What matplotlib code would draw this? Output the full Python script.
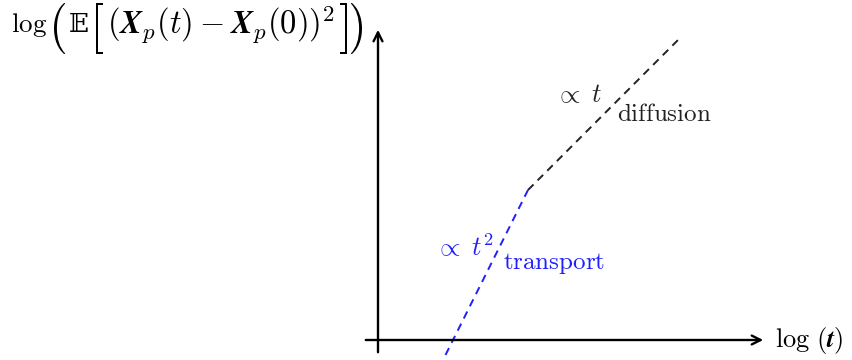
import matplotlib
matplotlib.use("Agg")
import matplotlib.pyplot as plt
from matplotlib.textpath import TextPath
from matplotlib.patches import PathPatch
from matplotlib.transforms import Affine2D
from matplotlib.font_manager import FontProperties

plt.rcParams['mathtext.fontset'] = 'cm'
plt.rcParams['font.family'] = 'serif'
plt.rcParams['font.serif'] = ['cmr10', 'DejaVu Serif']
plt.rcParams['axes.formatter.use_mathtext'] = True

# log(t) and log(MSD) at the ends of the two regimes
transport_logt = [1.35, 3.0]
transport_logmsd = [-0.3, 3.0]
diffusion_logt = [3.0, 6.08]
diffusion_logmsd = [3.0, 6.08]

blue = '#1f1fff'
dark = '#222222'
W, H = 853, 360

fig = plt.figure(figsize=(W / 100, H / 100), dpi=100)
ax = fig.add_axes([0, 0, 1, 1])
ax.set_xlim(-7.56, 9.5)
ax.set_ylim(-0.4, 6.8)
ax.axis('off')

# axes with arrows
ax.annotate('', xy=(7.76, 0), xytext=(-0.3, 0),
            arrowprops=dict(arrowstyle='->', lw=1.7, color='black', mutation_scale=16))
ax.annotate('', xy=(0, 6.26), xytext=(0, -0.3),
            arrowprops=dict(arrowstyle='->', lw=1.7, color='black', mutation_scale=16))

ax.plot(transport_logt, transport_logmsd, color=blue, lw=1.4, linestyle=(0, (4, 3)))
ax.plot(diffusion_logt, diffusion_logmsd, color=dark, lw=1.4, linestyle=(0, (4, 3)))


# y label, pieced together so the outer delimiters can be big like in LaTeX
def ptext(x, y, s, size=20, **kw):
    fig.text(x / W, 1 - y / H, s, va='baseline', ha='left', fontsize=size, **kw)


def big_delim(ch, x0, x1, ytop, ybot):
    tp = TextPath((0, 0), ch, size=1, prop=FontProperties(family='cmr10'))
    ext = tp.get_extents()
    tr = (Affine2D().translate(-ext.x0, -ext.y0)
          .scale((x1 - x0) / ext.width, (ybot - ytop) / ext.height)
          .translate(x0, H - ybot))
    fig.add_artist(PathPatch(tp, transform=tr, facecolor='black', edgecolor='none'))


ptext(11, 32, r'$\log$', size=19.5)
big_delim('(', 54, 65, 3, 54)
ptext(69, 32, '\U0001D53C', size=19, family=['DejaVu Serif', 'DejaVu Sans'])
big_delim('[', 96, 103, 3, 54)
ptext(107, 33, r'$(\boldsymbol{X}_p(t)-\boldsymbol{X}_p(0))^2$', size=23.5)
big_delim(']', 340, 347, 3, 54)
big_delim(')', 351, 362, 3, 54)

ax.text(7.94, 0.0, r'$\log\,(\boldsymbol{t})$', ha='left', va='center', fontsize=19, color='black')

ax.text(3.54, 4.9, r'$\propto\;t$', ha='left', va='center', fontsize=19, color=dark)
ax.text(4.78, 4.5, r'$\mathrm{diffusion}$', ha='left', va='center', fontsize=18, color=dark)
ax.text(1.14, 1.86, r'$\propto\;t^2$', ha='left', va='center', fontsize=19, color=blue)
ax.text(2.5, 1.54, r'$\mathrm{transport}$', ha='left', va='center', fontsize=18, color=blue)

fig.savefig('out.png', dpi=100)
